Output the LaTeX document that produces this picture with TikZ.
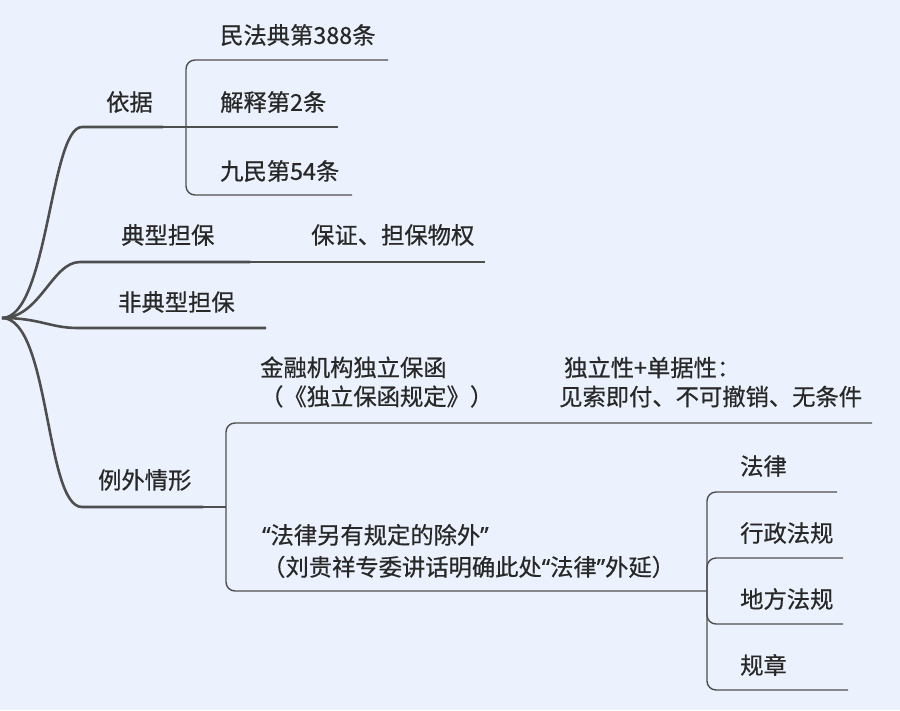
\documentclass[tikz,border=0pt]{standalone}
\usepackage{fontspec}
\setmainfont{Noto Sans CJK SC}[FakeBold=0.6]
\newfontfamily\latq{Noto Sans}[FakeBold=0.6]
\definecolor{bg}{RGB}{236,242,253}
\definecolor{ln}{RGB}{78,78,78}
\definecolor{tx}{RGB}{40,40,40}
\begin{document}
\begin{tikzpicture}[x=1pt,y=-1pt,
  lbl/.style={inner sep=0pt, anchor=west, text=tx, font=\fontsize{23.3}{29}\selectfont, align=left},
  mainln/.style={draw=ln, line width=2.6pt},
  subln/.style={draw=ln, line width=1.4pt, rounded corners=9pt}]
\fill[bg] (0,0) rectangle (900,710);
\useasboundingbox (0,0) rectangle (900,710);
% coordinates
\coordinate (root) at (2,318);
\coordinate (b1s) at (82,127);
\coordinate (b1e) at (163,127);
\coordinate (b1k) at (186,127);
\coordinate (c11) at (388,60);
\coordinate (c12) at (338,127);
\coordinate (c13) at (352,195);
\coordinate (b2s) at (80,262);
\coordinate (b2e) at (250,262);
\coordinate (c21) at (485,262);
\coordinate (b3s) at (78,328);
\coordinate (b3e) at (266,328);
\coordinate (b4s) at (82,507);
\coordinate (b4e) at (203,507);
\coordinate (b4k) at (226,507);
\coordinate (c41) at (872,423);
\coordinate (c42) at (707,591);
\coordinate (l1) at (837,492);
\coordinate (l2) at (843,558);
\coordinate (l3) at (843,624);
\coordinate (l4) at (848,690);
% labels
\node[lbl] (yiju) at (106,102) {依据};
\node[lbl] (c11t) at (220,35) {民法典第388条};
\node[lbl] (c12t) at (220,102) {解释第2条};
\node[lbl] (c13t) at (220,171) {九民第54条};
\node[lbl] (dx) at (121,235) {典型担保};
\node[lbl] (dxc) at (311,235) {保证、担保物权};
\node[lbl] (fdx) at (118,302) {非典型担保};
\node[lbl] (lw) at (98,480) {例外情形};
\node[lbl] (jr) at (260,382) {金融机构独立保函\\（《独立保函规定》）};
\node[lbl] (dl) at (559,382) {\hspace{5pt}独立性+单据性：\\见索即付、不可撤销、无条件};
\node[lbl, font=\fontsize{23.3}{32}\selectfont] (fl) at (262,551) {{\latq “}法律另有规定的除外{\latq ”}\\（刘贵祥专委讲话明确此处{\latq “}法律{\latq ”}外延）};
\node[lbl] (f1) at (740,466) {法律};
\node[lbl] (f2) at (740,533) {行政法规};
\node[lbl] (f3) at (740,599) {地方法规};
\node[lbl] (f4) at (740,665) {规章};
% connectors
\draw[mainln] (root) .. controls (48,318) and (50,127) .. (b1s) -- (b1e);
\draw[mainln] (root) .. controls (40,318) and (52,262) .. (b2s) -- (b2e);
\draw[mainln] (root) .. controls (40,318) and (50,328) .. (b3s) -- (b3e);
\draw[mainln] (root) .. controls (50,318) and (45,507) .. (b4s) -- (b4e);
\draw[subln] (b1e) -- (b1k) -- (c12);
\draw[subln] (b1k) |- (c11);
\draw[subln] (b1k) |- (c13);
\draw[subln] (b2e) -- (c21);
\draw[subln] (b4e) -- (b4k);
\draw[subln] (b4k) |- (c41);
\draw[subln] (b4k) |- (c42);
\draw[subln] (c42) |- (l1);
\draw[subln] (c42) |- (l2);
\draw[subln] (c42) |- (l3);
\draw[subln] (c42) |- (l4);
\end{tikzpicture}
\end{document}
